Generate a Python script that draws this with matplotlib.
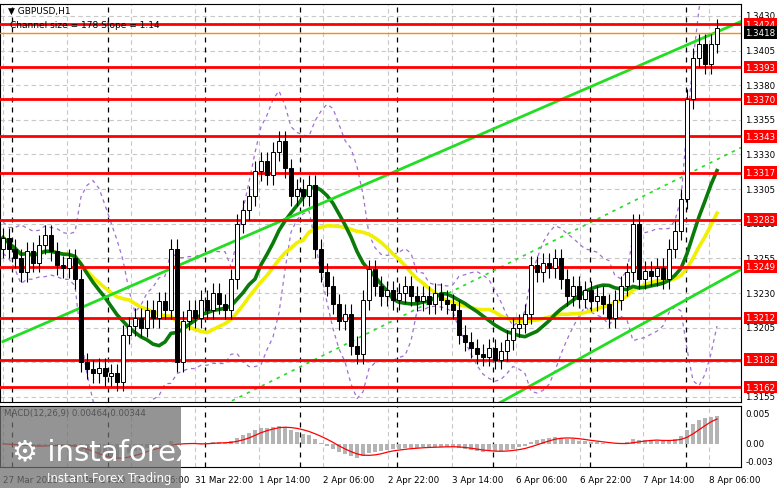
import numpy as np
import pandas as pd
import matplotlib
matplotlib.use("Agg")
import matplotlib.pyplot as plt
from matplotlib.patches import Rectangle

closes = [1.3270,1.3262,1.3255,1.3245,1.3260,1.3252,1.3265,1.3272,1.3260,1.3250,
          1.3248,1.3255,1.3240,1.3180,1.3175,1.3172,1.3176,1.3170,1.3172,1.3166,
          1.3200,1.3206,1.3212,1.3205,1.3218,1.3212,1.3224,1.3218,1.3262,1.3180,
          1.3210,1.3218,1.3212,1.3225,1.3218,1.3230,1.3222,1.3218,1.3240,1.3280,
          1.3290,1.3300,1.3318,1.3325,1.3315,1.3332,1.3340,1.3320,1.3300,1.3305,
          1.3300,1.3308,1.3262,1.3245,1.3235,1.3222,1.3210,1.3215,1.3192,1.3186,
          1.3225,1.3247,1.3235,1.3228,1.3232,1.3225,1.3230,1.3235,1.3228,1.3224,
          1.3228,1.3222,1.3230,1.3225,1.3222,1.3218,1.3200,1.3195,1.3190,1.3186,
          1.3184,1.3190,1.3182,1.3188,1.3196,1.3205,1.3208,1.3215,1.3250,1.3245,
          1.3252,1.3248,1.3255,1.3240,1.3228,1.3235,1.3226,1.3232,1.3224,1.3228,
          1.3222,1.3212,1.3225,1.3235,1.3245,1.3280,1.3240,1.3246,1.3242,1.3248,
          1.3240,1.3262,1.3275,1.3298,1.3370,1.3400,1.3410,1.3395,1.3410,1.3421]
first_open = 1.3262
levels = [1.3424,1.3393,1.3370,1.3343,1.3317,1.3283,1.3249,1.3212,1.3182,1.3162]
current_price = 1.3418
price_ticks = [1.3430,1.3405,1.3380,1.3355,1.3330,1.3305,1.3280,1.3255,1.3230,1.3205,1.3180,1.3155]
upper_channel = [(0, 1.3195), (123, 1.3426)]
lower_channel = [(65.3, 1.3109), (123, 1.3247)]
mid_channel = [(19.5, 1.3112), (123, 1.3335)]
date_labels = ["27 Mar 2025","28 Mar 14:00","31 Mar 06:00","31 Mar 22:00","1 Apr 14:00","2 Apr 06:00",
               "2 Apr 22:00","3 Apr 14:00","6 Apr 06:00","6 Apr 22:00","7 Apr 14:00","8 Apr 06:00"]
date_pos = [0.0,10.7,21.3,32.0,42.7,53.3,64.2,74.8,85.5,96.2,106.7,117.7]
separators = [1.5,17.5,33.7,49.5,65.7,81.7,97.8,113.8]

c = pd.Series(closes)
o = pd.Series([first_open] + closes[:-1])
n = len(c)
x = np.arange(n)
wick = 0.0007

fig = plt.figure(figsize=(7.81, 4.89), dpi=100)
ax = fig.add_axes([0.0, 0.176, 0.9488, 0.814])
mx = fig.add_axes([0.0, 0.043, 0.9488, 0.125])
ylo, yhi = 1.31514, 1.34387
ax.set_ylim(ylo, yhi)
ax.set_xlim(-0.5, 123)
mx.set_xlim(-0.5, 123)

for p in price_ticks:
    ax.axhline(p, color="#c8c8c8", ls=(0, (4, 3)), lw=0.8, zorder=0)
for d in date_pos:
    ax.axvline(d, color="#c8c8c8", ls=(0, (4, 3)), lw=0.8, zorder=0)
    mx.axvline(d, color="#c8c8c8", ls=(0, (4, 3)), lw=0.8, zorder=0)
for s in separators:
    ax.axvline(s, color="black", ls=(0, (4, 4)), lw=0.9, zorder=0)
    mx.axvline(s, color="black", ls=(0, (4, 4)), lw=0.9, zorder=0)

bb_mid = c.rolling(10, min_periods=1).mean()
bb_sd = c.rolling(10, min_periods=2).std().bfill()
ax.plot(x, bb_mid + 2 * bb_sd, color="#a070d0", ls=(0, (3, 3)), lw=0.9, zorder=1)
ax.plot(x, bb_mid - 2 * bb_sd, color="#a070d0", ls=(0, (3, 3)), lw=0.9, zorder=1)
ax.plot(x, c.rolling(22, min_periods=1).mean(), color="#f0f000", lw=2.6, zorder=2)
ax.plot(x, c.rolling(14, min_periods=1).mean(), color="#0a7a0a", lw=2.6, zorder=2)

for ch, st in [(upper_channel, "-"), (lower_channel, "-"), (mid_channel, (0, (2, 3)))]:
    ax.plot([ch[0][0], ch[1][0]], [ch[0][1], ch[1][1]], color="#22dd22", lw=2 if st == "-" else 1.2, ls=st, zorder=2)

for lv in levels:
    ax.axhline(lv, color="#ff0000", lw=2, zorder=3)
ax.axhline(current_price, color="#ff8c00", lw=1, zorder=3)

for i in range(n):
    oi, ci = o[i], c[i]
    ax.vlines(i, min(oi, ci) - wick, max(oi, ci) + wick, color="black", lw=0.8, zorder=4)
    b = min(oi, ci); h = max(abs(ci - oi), 0.00004)
    ax.add_patch(Rectangle((i - 0.33, b), 0.66, h, facecolor="white" if ci >= oi else "black",
                           edgecolor="black", lw=0.7, zorder=5))

ax.set_xticks([]); ax.set_yticks([])
for sp in ax.spines.values():
    sp.set_linewidth(0.8)

def ytxt(axis, v, lo, hi, s, fc=None, tc="black"):
    yy = (v - lo) / (hi - lo)
    kw = dict(transform=axis.transAxes, fontsize=6.2, va="center", ha="left", color=tc, clip_on=False)
    if fc:
        kw["bbox"] = dict(boxstyle="square,pad=0.2", fc=fc, ec="none")
    axis.text(1.006, yy, s, **kw)

for p in price_ticks:
    ytxt(ax, p, ylo, yhi, f"{p:.4f}")
for lv in levels:
    ytxt(ax, lv, ylo, yhi, f"{lv:.4f}", fc="#ff0000", tc="white")
ytxt(ax, current_price, ylo, yhi, f"{current_price:.4f}", fc="black", tc="white")

ema_f = c.ewm(span=8, adjust=False).mean()
ema_s = c.ewm(span=17, adjust=False).mean()
macd = ema_f - ema_s
sig = macd.rolling(5, min_periods=1).mean()
mlo, mhi = -0.00383, 0.00633
mx.set_ylim(mlo, mhi)
mx.bar(x, macd, width=0.6, color="#b4b4b4", zorder=2)
mx.plot(x, sig, color="#ff0000", lw=0.9, zorder=3)
mx.set_xticks([]); mx.set_yticks([])
for v, s in [(0.005, "0.005"), (0.0, "0.00"), (-0.003, "-0.003")]:
    ytxt(mx, v, mlo, mhi, s)
mx.text(0.005, 0.97, "MACD(12,26,9) 0.00464 0.00344", transform=mx.transAxes, fontsize=6.2, va="top")

for lab, pos in zip(date_labels, date_pos):
    xf = (pos + 0.5) / 123.5
    mx.text(xf, -0.13, lab, transform=mx.transAxes, fontsize=6.3, va="top", ha="left")

fig.text(0.01, 0.985, "\u25bc GBPUSD,H1", fontsize=6.5, va="top")
fig.text(0.013, 0.958, "Channel size = 178 Slope = 1.14", fontsize=6.5, va="top")

fig.patches.append(Rectangle((0, 0), 0.232, 0.165, transform=fig.transFigure,
                             facecolor="#707070", alpha=0.75, zorder=10))
fig.text(0.015, 0.075, "\u2699 instaforex", fontsize=21, color="white", zorder=11, va="center")
fig.text(0.06, 0.015, "Instant Forex Trading", fontsize=8.5, color="white", zorder=11)

fig.savefig("out.png", dpi=100)
